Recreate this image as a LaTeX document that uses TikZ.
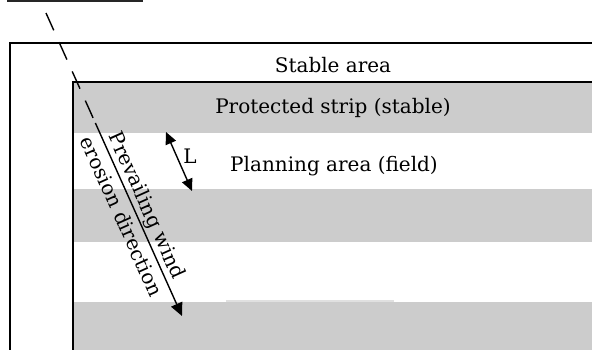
\documentclass[tikz,border=0pt]{standalone}
\usepackage{fontspec}
\setmainfont{DejaVu Serif}
\usetikzlibrary{arrows.meta,calc}

\begin{document}
\begin{tikzpicture}[
  x=1pt, y=-1pt,
  band/.style={fill=black!20, draw=none},
  edge/.style={line width=2pt},
  txt/.style={font=\fontsize{20}{28}\selectfont, inner sep=0pt},
  windarrow/.style={line width=1.4pt, -{Triangle[length=13pt,width=12pt]}},
  lenarrow/.style={line width=1.4pt, {Triangle[length=12pt,width=11pt]}-{Triangle[length=12pt,width=11pt]}}
]
\useasboundingbox (0,0) rectangle (592,349);

% grey strips
\fill[band] (73,82) rectangle (594,133);
\fill[band] (73,189) rectangle (594,242);
\fill[band] (73,302) rectangle (594,351);
\fill[black!12] (226,300) rectangle (394,302);

% frames
\draw[line width=1.5pt, black!85] (7,1) -- (143,1);
\draw[edge] (10,351) |- (594,43);
\draw[edge] (73,351) |- (594,82);

% wind direction
\coordinate (windtop) at (46,13);
\coordinate (windend) at (182,316);
\coordinate (windmid) at ($(windtop)!0.363!(windend)$);
\draw[line width=1.4pt, dash pattern=on 19pt off 13pt] (windtop) -- (windmid);
\draw[windarrow] (windmid) -- (windend);
\node[txt, rotate=-65.8, align=center] (wind) at ($(windtop)!0.653!(windend)$)
  {Prevailing wind\\erosion direction};

% strip width
\coordinate (lentop) at (166,132);
\coordinate (lenbot) at (192,191);
\draw[lenarrow] (lentop) -- (lenbot);
\node[txt] (len) at (190,156) {L};

\node[txt] (stable) at (333,65) {Stable area};
\node[txt] (strip) at (333,108) {Protected strip (stable)};
\node[txt] (field) at (334,166) {Planning area (field)};
\end{tikzpicture}
\end{document}
